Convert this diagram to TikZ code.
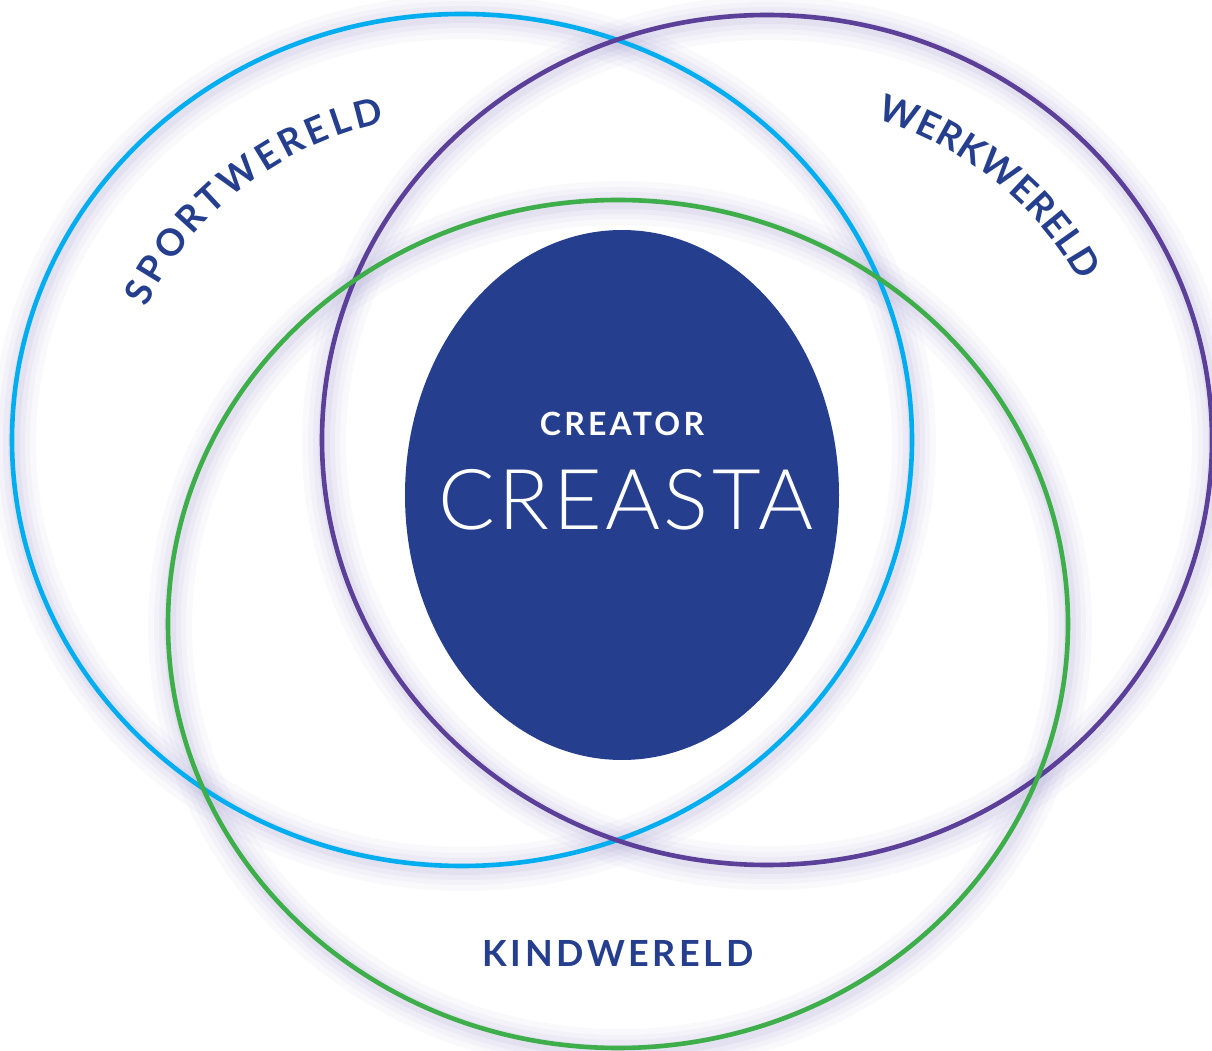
\documentclass[tikz,border=0pt]{standalone}
\usepackage{fontspec}
\setmainfont{Lato}
\newfontfamily\labelfont{Lato}[LetterSpace=10]
\newfontfamily\handfont{Lato}[UprightFont=* Light, LetterSpace=4]
\usetikzlibrary{decorations.text}

\definecolor{sportblue}{HTML}{00AEEF}
\definecolor{werkpurple}{HTML}{5B3F98}
\definecolor{kindgreen}{HTML}{3DAE49}
\definecolor{creastablue}{HTML}{253F8E}
\definecolor{glowlilac}{HTML}{A9A4D2}

\tikzset{
  ring/.style={line width=2.3pt},
  worldtext/.style={decorate, decoration={text along path, text color=creastablue,
      text align={fit to path}}}
}

\begin{document}
\begin{tikzpicture}[x=0.5pt,y=0.5pt]
\useasboundingbox (0,0) rectangle (1212,1051);

%% centres
\coordinate (sport) at (462,611);
\coordinate (werk) at (767,611);
\coordinate (kind) at (618,427);
\coordinate (creasta) at (622,556);

%% soft shadows
\foreach \w/\o in {22pt/0.07,16pt/0.08,11pt/0.1,6pt/0.12}{
  \draw[glowlilac, line width=\w, opacity=\o] ([shift={(2,-3)}]sport) ellipse (450 and 426);
  \draw[glowlilac, line width=\w, opacity=\o] ([shift={(2,-3)}]werk) ellipse (445 and 425);
  \draw[glowlilac, line width=\w, opacity=\o] ([shift={(2,-3)}]kind) ellipse (450 and 424);
}

%%% rings
\draw[ring, sportblue] (sport) ellipse (450 and 426);
\draw[ring, werkpurple] (werk) ellipse (445 and 425);
\draw[ring, kindgreen] (kind) ellipse (450 and 424);

%%% centre
\fill[creastablue] (creasta) ellipse (217 and 265);
\node[text=white, font=\labelfont\bfseries\fontsize{16}{16}\selectfont] (creator) at (622,627) {CREATOR};
\node[text=white, font=\handfont\fontsize{42}{42}\selectfont] (creastaname) at (626,551) {CREASTA};

%%% labels
\path[worldtext, decoration={text={|\bfseries\fontsize{18.5}{18.5}\selectfont|SPORTWERELD}}]
  ([shift={(156:345 and 326)}]sport) arc[start angle=156, end angle=103, x radius=345, y radius=326];
\path[worldtext, decoration={text={|\bfseries\fontsize{18.5}{18.5}\selectfont|WERKWERELD}}]
  ([shift={(72:354 and 338)}]werk) arc[start angle=72, end angle=28, x radius=354, y radius=338];
\node[text=creastablue, font=\labelfont\bfseries\fontsize{18}{18}\selectfont] (kindwereld) at (618,98) {KINDWERELD};

\end{tikzpicture}
\end{document}
